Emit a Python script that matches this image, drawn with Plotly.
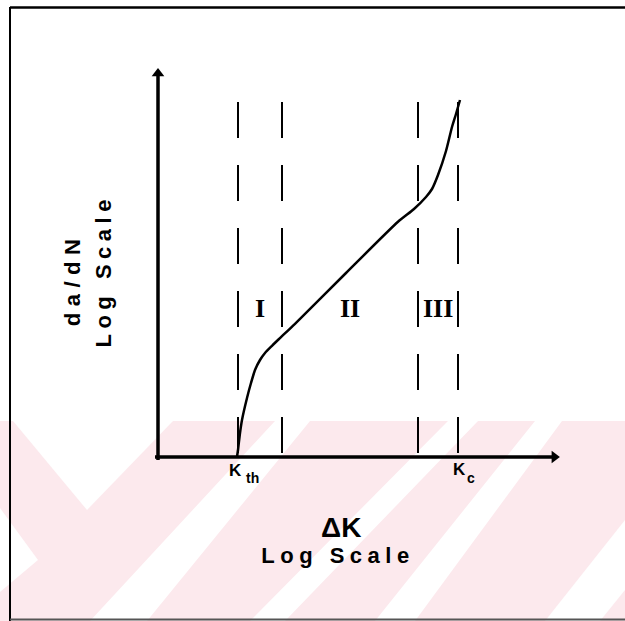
import plotly.graph_objects as go

# ---- data (conceptual log-log units) ----
K_TH = 2.0
K_C = 7.5
region_bounds = [2.0, 3.1, 6.5, 7.5]
dash_top = 8.875
region_labels = ["I", "II", "III"]
region_label_y = 3.725

curve_x = [1.975, 2.0, 2.05, 2.1, 2.225, 2.325, 2.425, 2.55, 2.675, 2.85, 3.025,
           3.425, 4.7, 6.0, 6.4, 6.7, 6.85, 7.0, 7.2, 7.35, 7.45, 7.55]
curve_y = [0.0, 0.175, 0.6, 0.925, 1.475, 1.85, 2.175, 2.425, 2.6, 2.78, 2.95,
           3.33, 4.6, 5.88, 6.2, 6.5, 6.7, 7.05, 7.65, 8.25, 8.575, 8.925]

x_axis_start = -0.075
x_axis_end = 10.05
y_axis_end = 9.725

W, H = 625, 621
XR = [-3.95, 11.675]
YR = [-4.1, 11.425]

fig = go.Figure()

# axes (lines + arrowheads)
fig.add_trace(go.Scatter(x=[0, 0], y=[x_axis_start, y_axis_end - 0.15], mode="lines",
                         line=dict(color="black", width=3.5), hoverinfo="skip"))
fig.add_trace(go.Scatter(x=[x_axis_start, x_axis_end - 0.15], y=[0, 0], mode="lines",
                         line=dict(color="black", width=3.5), hoverinfo="skip"))
fig.add_trace(go.Scatter(x=[0], y=[y_axis_end - 0.14], mode="markers",
                         marker=dict(symbol="triangle-up", size=11, color="black"), hoverinfo="skip"))
fig.add_trace(go.Scatter(x=[x_axis_end - 0.14], y=[0], mode="markers",
                         marker=dict(symbol="triangle-right", size=11, color="black"), hoverinfo="skip"))

# dashed region boundaries
for xb in region_bounds:
    fig.add_trace(go.Scatter(x=[xb, xb], y=[dash_top, 0], mode="lines",
                             line=dict(color="black", width=2, dash="36px,27px"),
                             hoverinfo="skip"))

# crack growth curve
fig.add_trace(go.Scatter(x=curve_x, y=curve_y, mode="lines",
                         line=dict(color="black", width=2.5, shape="spline", smoothing=0.6),
                         hoverinfo="skip"))

# ---- watermark (pink diagonal pattern) ----
def px(x, y):
    return (x / W, 1 - y / H)

def poly(pts):
    s = ""
    for i, (x, y) in enumerate(pts):
        a, b = px(x, y)
        s += ("M" if i == 0 else "L") + f"{a:.4f},{b:.4f} "
    return s + "Z"

pink = "rgb(252,233,237)"
shapes = [dict(type="rect", xref="paper", yref="paper", x0=0, x1=1,
               y0=0, y1=1 - 421 / H, fillcolor=pink, line=dict(width=0), layer="below")]
white_polys = [
    [(13, 421), (173, 421), (87, 510)],
    [(0, 508), (38, 560), (0, 592)],
    [(90, 621), (147, 621), (310, 421), (275, 421)],
    [(250, 621), (285, 621), (478, 421), (448, 421)],
    [(375, 621), (415, 621), (562, 421), (535, 421)],
    [(545, 621), (600, 621), (625, 590), (625, 520)],
]
for p in white_polys:
    shapes.append(dict(type="path", xref="paper", yref="paper", path=poly(p),
                       fillcolor="white", line=dict(width=0), layer="below"))

# border frame
shapes += [
    dict(type="line", xref="paper", yref="paper", x0=10 / W, x1=1, y0=1 - 7.5 / H, y1=1 - 7.5 / H,
         line=dict(color="black", width=2.5)),
    dict(type="line", xref="paper", yref="paper", x0=10 / W, x1=10 / W, y0=1 - 7 / H, y1=0,
         line=dict(color="black", width=2)),
    dict(type="line", xref="paper", yref="paper", x0=10 / W, x1=1, y0=1 - 619.5 / H, y1=1 - 619.5 / H,
         line=dict(color="#555555", width=2)),
]

annotations = []
# region labels
for i, lab in enumerate(region_labels):
    xc = (region_bounds[i] + region_bounds[i + 1]) / 2
    annotations.append(dict(x=xc, y=region_label_y, xref="x", yref="y", text=f"<b>{lab}</b>",
                            showarrow=False,
                            font=dict(family="Liberation Serif", size=26, color="black")))

# K labels (main letter + subscript as separate texts)
kfont = dict(family="Liberation Sans", size=17, color="black")
sfont = dict(family="Liberation Sans", size=14, color="black")
annotations += [
    dict(x=K_TH - 0.075, y=-0.33, xref="x", yref="y", text="<b>K</b>", showarrow=False, font=kfont),
    dict(x=K_TH + 0.35, y=-0.53, xref="x", yref="y", text="<b>th</b>", showarrow=False, font=sfont),
    dict(x=K_C + 0.025, y=-0.3, xref="x", yref="y", text="<b>K</b>", showarrow=False, font=kfont),
    dict(x=K_C + 0.33, y=-0.53, xref="x", yref="y", text="<b>c</b>", showarrow=False, font=sfont),
]

# axis titles
annotations.append(dict(x=4.58, y=-1.75, xref="x", yref="y", text="<b>ΔK</b>", showarrow=False,
                        font=dict(family="Liberation Sans", size=28, color="black")))
annotations.append(dict(x=4.5, y=-2.45, xref="x", yref="y", text="<b>Log Scale</b>", showarrow=False,
                        font=dict(family="Liberation Sans", size=22, color="black")))
annotations.append(dict(x=-2.15, y=4.425, xref="x", yref="y", text="<b>da/dN</b>", showarrow=False,
                        textangle=-90, font=dict(family="Liberation Sans", size=22, color="black")))
annotations.append(dict(x=-1.38, y=4.65, xref="x", yref="y", text="<b>Log Scale</b>", showarrow=False,
                        textangle=-90, font=dict(family="Liberation Sans", size=22, color="black")))

fig.update_layout(
    width=W, height=H, autosize=False,
    margin=dict(l=0, r=0, t=0, b=0, pad=0),
    paper_bgcolor="white", plot_bgcolor="rgba(0,0,0,0)",
    xaxis=dict(range=XR, visible=False, fixedrange=True),
    yaxis=dict(range=YR, visible=False, fixedrange=True),
    shapes=shapes, annotations=annotations, showlegend=False,
)

post = """
var gd = document.getElementById('{plot_id}');
var sp = {"da/dN": "6.5px", "Log Scale": "5.5px"};
gd.querySelectorAll('.annotation-text').forEach(function(t){
  var s = sp[t.textContent];
  if (s) { t.style.letterSpacing = s; }
});
"""
fig.write_html("out.html", post_script=post, config={"displayModeBar": False, "staticPlot": True})
